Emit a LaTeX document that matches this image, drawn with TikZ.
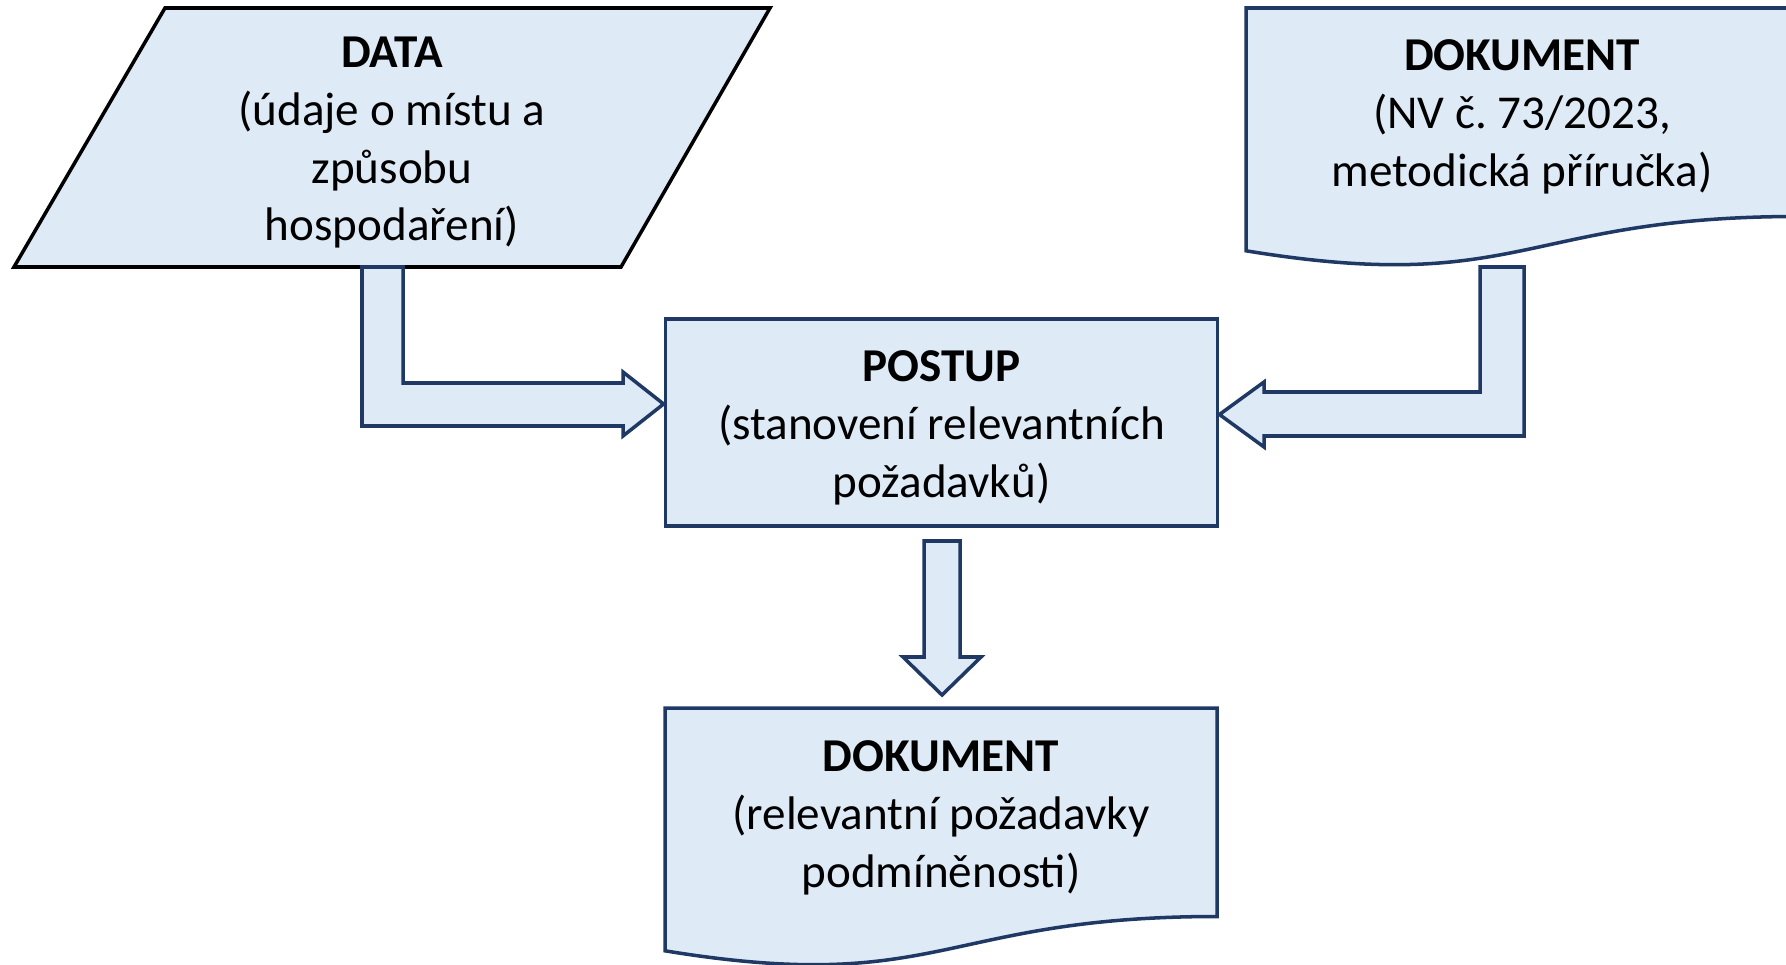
\documentclass[tikz,border=0pt]{standalone}
\usepackage{fontspec}
\setmainfont{Carlito}
\usepackage{xcolor}
\usepackage{tikz}
\usetikzlibrary{calc}
\definecolor{flfill}{HTML}{DEEAF6}
\definecolor{flnavy}{HTML}{1F3864}
\frenchspacing

% document symbol, top left corner given
\newcommand{\docshape}[1]{%
  \draw[shapeline, shift={(#1)}] (0,0) -- (552,0) -- (552,208.5)
    .. controls (276,208.5) and (276,288) .. (0,242.8) -- cycle;}

\begin{document}
\begin{tikzpicture}[
  x=0.01cm, y=-0.01cm,
  shapeline/.style={fill=flfill, draw=flnavy, line width=1pt, line join=miter},
  datashape/.style={shapeline, draw=black},
  lbl/.style={inner sep=0pt, align=center, font=\fontsize{13.4}{16.4}\selectfont},
  box/.style={shapeline, rectangle, minimum width=5.52cm, minimum height=2.07cm},
  blockarr/.style={shapeline},
]
\useasboundingbox (0,0) rectangle (1786,964);

% Inputs
\draw[datashape] (165,8) -- (770,8) -- (621,267) -- (14,267) -- cycle;
\node[lbl] (data) at (392,143) {\textbf{DATA}\\(údaje o místu a\\způsobu\\hospodaření)};

\docshape{1246,8}
\node[lbl] (dokin) at (1522,117) {\textbf{DOKUMENT}\\(NV č. 73/2023,\\metodická příručka)};

% Process
\node[box] (postup) at (941.5,422.5) {};
\node[lbl] (postuptxt) at (941.5,428) {\textbf{POSTUP}\\(stanovení relevantních\\požadavků)};

% Output
\docshape{665,708}
\node[lbl] (dokout) at (941,818) {\textbf{DOKUMENT}\\(relevantní požadavky\\podmíněnosti)};

% Block arrows
\draw[blockarr] (362,267) -- (403,267) -- (403,383) -- (623,383) -- (623,372)
  -- ($(postup.west)+(0,-18.5)$) -- (623,436) -- (623,426) -- (362,426) -- cycle;
\draw[blockarr] (1524,267) -- (1480,267) -- (1480,392) -- (1264,392) -- (1264,382)
  -- ($(postup.east)+(0,-8)$) -- (1264,447) -- (1264,436) -- (1524,436) -- cycle;
\draw[blockarr] (924,541) -- (960,541) -- (960,657) -- (981,657)
  -- (942,695) -- (903,657) -- (924,657) -- cycle;
\end{tikzpicture}
\end{document}
